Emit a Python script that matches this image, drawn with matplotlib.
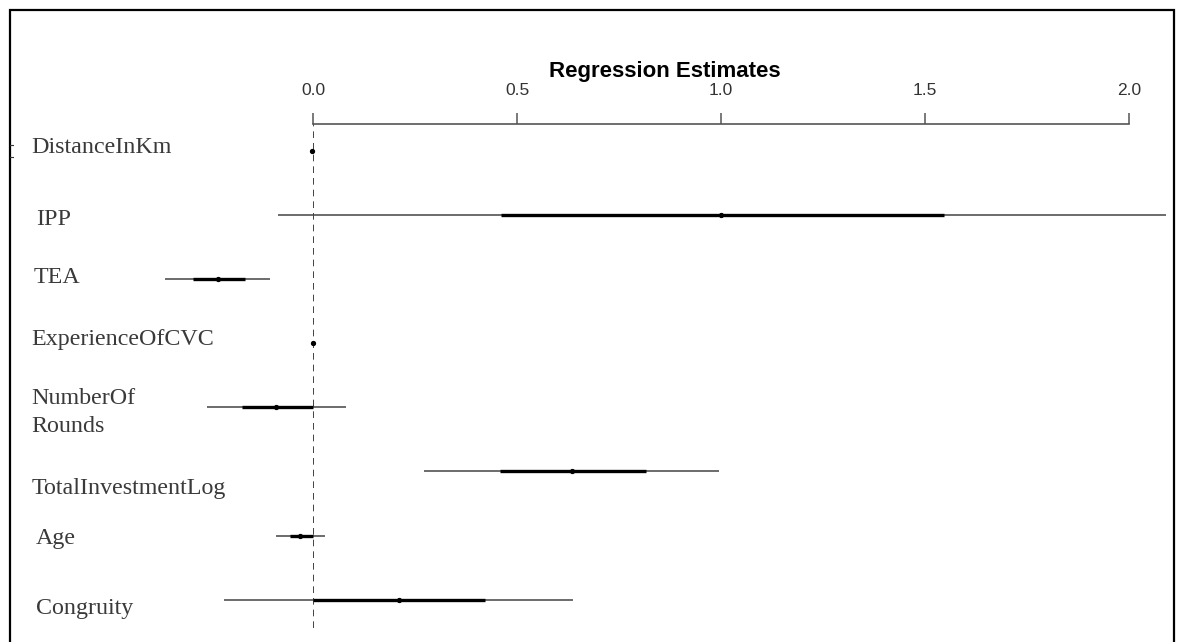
import matplotlib
matplotlib.use("Agg")
import matplotlib.pyplot as plt
from matplotlib.patches import Rectangle
import numpy as np

# ---- data ----
labels = ["DistanceInKm", "IPP", "TEA", "ExperienceOfCVC", "NumberOf\nRounds",
          "TotalInvestmentLog", "Age", "Congruity"]
estimate = [-0.002, 1.001, -0.233, 0.0, -0.091, 0.635, -0.032, 0.211]
inner_lo = [-0.003, 0.461, -0.294, -0.001, -0.175, 0.459, -0.056, 0.0]
inner_hi = [-0.001, 1.546, -0.167, 0.001, 0.0, 0.817, 0.0, 0.422]
outer_lo = [-0.004, -0.086, -0.363, -0.002, -0.261, 0.273, -0.091, -0.218]
outer_hi = [0.0, 2.091, -0.106, 0.002, 0.082, 0.996, 0.029, 0.638]
xticks = [0.0, 0.5, 1.0, 1.5, 2.0]
xtick_labels = ["0.0", "0.5", "1.0", "1.5", "2.0"]
title = "Regression Estimates"

# ---- layout (pixels) ----
W, H = 1179, 642
label_x = [31, 36, 34, 31, 31, 32, 36, 36]
label_base = [153, 225, 283, 345, 404, 494, 544, 614]
line_gap = 28

def fx(x):
    return x / W

def fy(y):
    return 1 - y / H

fig = plt.figure(figsize=(W / 100, H / 100), dpi=100)
fig.patch.set_facecolor("white")

ax_left, ax_right, ax_top, ax_bot = 313, 1129, 124, 628
row0, row_step = 151, 64.1
ax = fig.add_axes([fx(ax_left), fy(ax_bot), (ax_right - ax_left) / W, (ax_bot - ax_top) / H])
ax.set_xlim(0, 2)
ax.set_ylim((ax_bot - row0) / row_step, (ax_top - row0) / row_step)
ax.set_facecolor("none")
for s in ["left", "right", "bottom"]:
    ax.spines[s].set_visible(False)
ax.spines["top"].set_color("#555555")
ax.spines["top"].set_linewidth(1.2)
ax.xaxis.tick_top()
ax.set_xticks(xticks)
ax.set_xticklabels(xtick_labels)
ax.tick_params(axis="x", direction="out", length=8, width=1.1, color="#555555",
               pad=10.5, labelsize=12.5, labelcolor="#333333")
for t in ax.get_xticklabels():
    t.set_fontfamily("Liberation Sans")
ax.set_yticks([])

ax.axvline(0, color="#222222", lw=1.2, dashes=(4, 3), zorder=1)

ypos = np.arange(len(labels))
ax.hlines(ypos, outer_lo, outer_hi, color="#444444", lw=1.1, clip_on=False, zorder=2)
ax.hlines(ypos, inner_lo, inner_hi, color="black", lw=2.4, clip_on=False, zorder=3)
ax.plot(estimate, ypos, "o", color="black", ms=2.8, clip_on=False, zorder=4)

fig.text(fx(665), fy(77), title, ha="center", va="baseline", fontsize=16,
         fontweight="bold", family="Liberation Sans", color="black")

for i, lab in enumerate(labels):
    for j, part in enumerate(lab.split("\n")):
        fig.text(fx(label_x[i]), fy(label_base[i] + j * line_gap), part,
                 ha="left", va="baseline", fontsize=17.3,
                 family="Liberation Serif", color="#3a3a3a")

# outer frame
fig.add_artist(Rectangle((fx(10), fy(700)), fx(1174) - fx(10), fy(10) - fy(700),
                         transform=fig.transFigure, fill=False,
                         edgecolor="black", lw=1.6, clip_on=False))
# small marks on the left frame
for y in [145, 157]:
    fig.add_artist(plt.Line2D([fx(10), fx(13)], [fy(y), fy(y)],
                              transform=fig.transFigure, color="#333333", lw=0.8))

fig.savefig("out.png", dpi=100, facecolor="white")
